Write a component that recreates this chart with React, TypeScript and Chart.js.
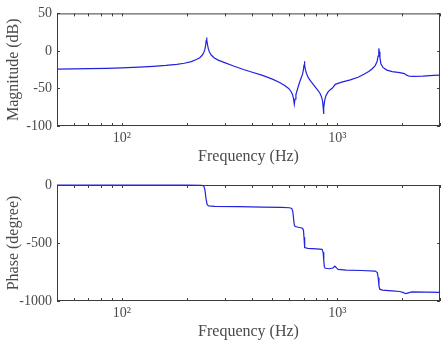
import { useEffect, useRef } from "react";
import { Chart, registerables } from "chart.js";

Chart.register(...registerables);

// Magnitude response (Hz, dB)
const MAG_FREQ = [
  50, 60, 70, 85, 100, 120, 140, 160, 180, 195, 210, 222, 230, 236, 240, 243, 245, 246.5, 247.5, 248.5,
  250, 252, 255, 260, 268, 280, 300, 330, 370, 400, 450, 500, 540, 570, 595, 610, 620, 627, 632, 637,
  643, 655, 668, 680, 690, 697, 701, 704, 707, 712, 720, 735, 756, 785, 810, 830, 845, 855, 861, 864,
  867, 873, 885, 905, 925, 950, 965, 980, 1000, 1050, 1150, 1250, 1330, 1400, 1450, 1500, 1530, 1548,
  1558, 1562, 1568, 1578, 1595, 1630, 1700, 1800, 1950, 2050, 2100, 2160, 2250, 2500, 2800, 3000,
];
const MAG_DB = [
  -24.2, -24.0, -23.7, -23.2, -22.6, -21.7, -20.6, -19.3, -17.8, -16.4, -14.3, -11.5, -9.0, -5.8, -2.5, 2, 8, 14, 17.8, 14,
  8, 3, -1.5, -5.5, -9, -12.2, -15.5, -20, -25, -28, -32.5, -37.5, -42, -46, -50, -54, -58, -64, -71, -64,
  -58, -50, -42, -36, -31, -25, -19, -13.6, -19, -25, -30, -36, -41, -47, -52, -56, -61, -67, -76, -84,
  -76, -67, -60, -55, -52, -49.5, -47, -44.5, -43.5, -41.5, -38.5, -35, -31, -27.5, -24, -19.5, -14.5, -7,
  0, 3.4, -1, -9, -17, -22, -25.5, -27.5, -28.8, -30.2, -32.3, -33.7, -34, -33.5, -32.6, -32.2,
];

// Phase response (Hz, degrees)
const PHASE_FREQ = [
  50, 100, 200, 235, 240, 243, 246, 249, 253, 270, 350, 450, 550, 600, 615, 622, 627, 632, 638, 660,
  690, 697, 701, 704, 708, 730, 800, 850, 860, 866, 871, 880, 920, 955, 975, 990, 1010, 1100, 1300, 1500,
  1535, 1550, 1562, 1575, 1620, 1800, 1950, 2030, 2080, 2140, 2220, 2600, 3000,
];
const PHASE_DEG = [
  0, 0, -1, -3, -8, -40, -120, -170, -180, -184, -187, -190, -193, -196, -202, -230, -290, -345, -358, -364,
  -372, -390, -450, -520, -540, -546, -550, -555, -580, -650, -705, -718, -722, -716, -700, -712, -728, -733, -737, -742,
  -755, -800, -870, -898, -906, -912, -918, -928, -937, -930, -922, -924, -925,
];

const FREQ_MIN = 50;
const FREQ_MAX = 3000;
const DECADE_TICKS = [100, 1000];
const DECADE_LABELS = ["10²", "10³"];
const MINOR_TICKS = [60, 70, 80, 90, 200, 300, 400, 500, 600, 700, 800, 900, 2000, 3000];

const FONT = "'Liberation Serif', 'Times New Roman', serif";
const TEXT_COLOR = "#4a4a4a";
const AXIS_COLOR = "#3c3c3c";
const LINE_COLOR = "#2222dd";

// Closed axes box with inward tick marks on all four sides, drawn beneath the curve
const boxPlugin = {
  id: "boxAxes",
  beforeDatasetsDraw(chart: any) {
    const { ctx, chartArea: a, scales } = chart;
    const xs = scales.x;
    const ys = scales.y;
    const len = 3;
    ctx.save();
    ctx.strokeStyle = AXIS_COLOR;
    ctx.lineWidth = 1;
    ctx.strokeRect(a.left + 0.5, a.top + 0.5, a.right - a.left - 1, a.bottom - a.top - 1);
    ctx.beginPath();
    for (const v of [...MINOR_TICKS, ...DECADE_TICKS]) {
      const px = Math.round(xs.getPixelForValue(v)) + 0.5;
      ctx.moveTo(px, a.bottom);
      ctx.lineTo(px, a.bottom - len);
      ctx.moveTo(px, a.top);
      ctx.lineTo(px, a.top + len);
    }
    for (const t of ys.ticks) {
      const py = Math.round(ys.getPixelForValue(t.value)) + 0.5;
      ctx.moveTo(a.left, py);
      ctx.lineTo(a.left + len, py);
      ctx.moveTo(a.right, py);
      ctx.lineTo(a.right - len, py);
    }
    ctx.stroke();
    ctx.restore();
  },
};

type PlotProps = {
  freq: number[];
  values: number[];
  yMin: number;
  yMax: number;
  yStep: number;
  yTitle: string;
  top: number;
  height: number;
  padTop: number;
};

function BodePanel({ freq, values, yMin, yMax, yStep, yTitle, top, height, padTop }: PlotProps) {
  const ref = useRef<HTMLCanvasElement | null>(null);

  useEffect(() => {
    if (!ref.current) return;
    const chart = new Chart(ref.current, {
      type: "line",
      data: {
        datasets: [
          {
            data: freq.map((f, i) => ({ x: f, y: values[i] })),
            borderColor: LINE_COLOR,
            borderWidth: 1.2,
            pointRadius: 0,
            tension: 0,
            fill: false,
            clip: { left: 0, top: 2, right: 0, bottom: 0 },
          },
        ],
      },
      options: {
        responsive: false,
        animation: false,
        events: [],
        layout: { padding: { left: 0, right: 1, top: padTop, bottom: 0 } },
        plugins: { legend: { display: false }, tooltip: { enabled: false } },
        scales: {
          x: {
            type: "logarithmic",
            min: FREQ_MIN,
            max: FREQ_MAX,
            grid: { display: false, drawTicks: false },
            border: { display: false },
            afterBuildTicks: (s: any) => {
              s.ticks = DECADE_TICKS.map((v) => ({ value: v, major: true }));
            },
            afterFit: (s: any) => {
              s.height = 39;
            },
            ticks: {
              autoSkip: false,
              maxRotation: 0,
              padding: 4,
              color: TEXT_COLOR,
              font: { family: FONT, size: 14 },
              callback: (v: any) => {
                const i = DECADE_TICKS.indexOf(Number(v));
                return i >= 0 ? DECADE_LABELS[i] : "";
              },
            },
            title: {
              display: true,
              text: "Frequency (Hz)",
              color: TEXT_COLOR,
              font: { family: FONT, size: 16, lineHeight: 1 },
              padding: { top: 0, bottom: 0 },
            },
          },
          y: {
            min: yMin,
            max: yMax,
            grid: { display: false, drawTicks: false },
            border: { display: false },
            afterFit: (s: any) => {
              s.width = 57;
            },
            ticks: {
              stepSize: yStep,
              padding: 5,
              color: TEXT_COLOR,
              font: { family: FONT, size: 14 },
              callback: (v: any) => String(v),
            },
            title: {
              display: true,
              text: yTitle,
              color: TEXT_COLOR,
              font: { family: FONT, size: 16, lineHeight: 1 },
              padding: { top: 6, bottom: 0 },
            },
          },
        },
      },
      plugins: [boxPlugin],
    });
    return () => chart.destroy();
  }, [freq, values, yMin, yMax, yStep, yTitle, padTop]);

  return (
    <canvas
      ref={ref}
      width={441}
      height={height}
      style={{ position: "absolute", left: 0, top, width: 441, height, display: "block" }}
    />
  );
}

export default function App() {
  return (
    <div style={{ position: "fixed", left: 0, top: 0, width: 441, height: 340, background: "#fff", overflow: "hidden" }}>
      <BodePanel
        freq={MAG_FREQ}
        values={MAG_DB}
        yMin={-100}
        yMax={50}
        yStep={50}
        yTitle="Magnitude (dB)"
        top={0}
        height={165}
        padTop={9}
      />
      <BodePanel
        freq={PHASE_FREQ}
        values={PHASE_DEG}
        yMin={-1000}
        yMax={0}
        yStep={500}
        yTitle="Phase (degree)"
        top={165}
        height={175}
        padTop={20}
      />
    </div>
  );
}
